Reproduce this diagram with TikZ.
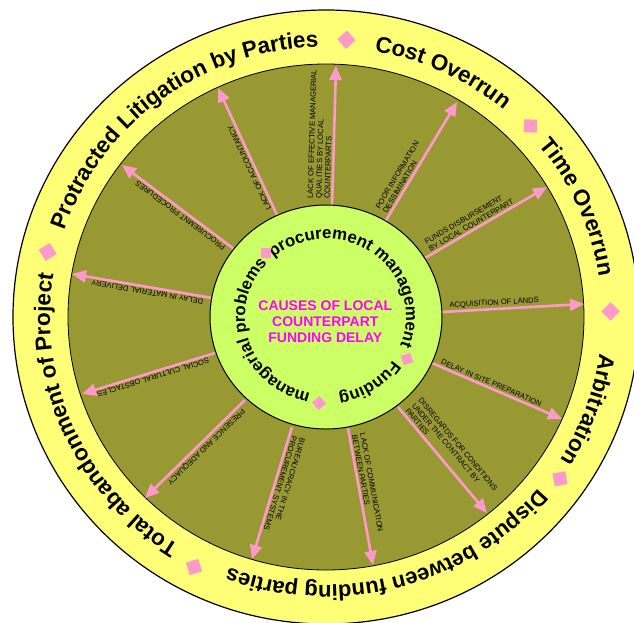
\documentclass[tikz,border=0pt]{standalone}
\usepackage{fontspec}
\setmainfont{Liberation Sans}
\usetikzlibrary{arrows.meta,decorations.text}
\definecolor{ringyellow}{HTML}{FFFF77}
\definecolor{olivefill}{HTML}{999933}
\definecolor{limefill}{HTML}{CCFF66}
\definecolor{pinkc}{HTML}{FF99CC}
\definecolor{magentac}{HTML}{FF00FF}
\begin{document}
\begin{tikzpicture}[x=1pt,y=1pt,
  arr/.style={draw=pinkc, line width=2.6pt, -{Triangle[length=14pt,width=12pt]}},
  lbl/.style={font=\fontsize{7.6}{8.4}\selectfont, text=black, sloped, allow upside down,
              anchor=south west, inner sep=1.2pt, align=left, pos=0.04},
  pinkdia/.style={fill=pinkc, minimum size=13pt, inner sep=0pt, draw=none},
  pinkdiasmall/.style={fill=pinkc, minimum size=10pt, inner sep=0pt, draw=none},
  centertext/.style={font=\fontsize{14}{16}\selectfont\bfseries, text=magentac, align=center}]
\useasboundingbox (-326,-305) rectangle (308,317);
\clip (-326,-305) rectangle (308,317);

% rings
\draw[fill=ringyellow, line width=1.2pt] (0,0) ellipse [x radius=313pt, y radius=307pt];
\draw[fill=olivefill, line width=0.8pt] (0,0) ellipse [x radius=258pt, y radius=253pt];

% arrow end points
\coordinate (s1) at (-49,102);   \coordinate (e1) at (-108,229);
\coordinate (s2) at (6,110);     \coordinate (e2) at (10,251);
\coordinate (s3) at (59,95);     \coordinate (e3) at (131,215);
\coordinate (s4) at (99,59);     \coordinate (e4) at (221,130);
\coordinate (s5) at (115.6,5);   \coordinate (e5) at (258,13);
\coordinate (s6) at (106,-46);   \coordinate (e6) at (236,-102);
\coordinate (s7) at (72,-90);    \coordinate (e7) at (161,-196);
\coordinate (s8) at (22,-111);   \coordinate (e8) at (47,-248);
\coordinate (s9) at (-34,-110);  \coordinate (e9) at (-74,-242);
\coordinate (s10) at (-81,-83);  \coordinate (e10) at (-181,-181);
\coordinate (s11) at (-111,-36); \coordinate (e11) at (-244,-77);
\coordinate (s12) at (-114,19);  \coordinate (e12) at (-254,43);
\coordinate (s13) at (-92,68);   \coordinate (e13) at (-204,152);

\draw[arr] (s1) -- node[lbl] (l1) {LACK OF ACCOUNTANCY} (e1);
\draw[arr] (s2) -- node[lbl] (l2) {LACK OF EFFECTIVE MANAGERIAL\\QUALITIES BY LOCAL\\COUNTERPARTS} (e2);
\draw[arr] (s3) -- node[lbl] (l3) {POOR INFORMATION\\DESSIMINATION} (e3);
\draw[arr] (s4) -- node[lbl] (l4) {FUNDS DISBURSEMENT\\BY LOCAL COUNTERPART} (e4);
\draw[arr] (s5) -- node[lbl] (l5) {ACQUISITION OF LANDS} (e5);
\draw[arr] (s6) -- node[lbl] (l6) {DELAY IN SITE PREPARATION} (e6);
\draw[arr] (s7) -- node[lbl] (l7) {DISREGARDS FOR CONDITIONS\\UNDER THE CONTRACT BY\\PARTIES} (e7);
\draw[arr] (s8) -- node[lbl] (l8) {LACK OF COMMUNICATION\\BETWEEN PARTIES} (e8);
\draw[arr] (s9) -- node[lbl] (l9) {BUREAUCRACY IN THE\\PROCUREMENT SYSTEMS} (e9);
\draw[arr] (s10) -- node[lbl] (l10) {PRESENCE AND ADEQUACY} (e10);
\draw[arr] (s11) -- node[lbl] (l11) {SOCIAL CULTURAL OBSTACLES} (e11);
\draw[arr] (s12) -- node[lbl] (l12) {DELAY IN MATERIAL DELIVERY} (e12);
\draw[arr] (s13) -- node[lbl] (l13) {PROCUREMNT PROCEDURES} (e13);

% inner circle
\draw[fill=limefill, line width=1pt] (0,0) ellipse [x radius=116pt, y radius=112pt];
\node[centertext] (title) at (-0.7,-4.5) {CAUSES OF LOCAL\\COUNTERPART\\FUNDING DELAY};

% outer ring texts (clockwise paths, tops outward)
\path[decorate, decoration={text along path, text align=center,
  text={|\fontsize{22.5}{26}\selectfont\bfseries|Cost Overrun}}]
  (134.5:276pt and 270pt) arc[start angle=134.5, end angle=-5.5, x radius=276pt, y radius=270pt];
\path[decorate, decoration={text along path, text align=center,
  text={|\fontsize{22.5}{26}\selectfont\bfseries|Time Overrun}}]
  (93.7:276pt and 270pt) arc[start angle=93.7, end angle=-46.3, x radius=276pt, y radius=270pt];
\path[decorate, decoration={text along path, text align=center,
  text={|\fontsize{22.5}{26}\selectfont\bfseries|Arbitration}}]
  (50.5:276pt and 270pt) arc[start angle=50.5, end angle=-89.5, x radius=276pt, y radius=270pt];
\path[decorate, decoration={text along path, text align=center,
  text={|\fontsize{22}{26}\selectfont\bfseries|Dispute between funding parties}}]
  (-5:276pt and 268pt) arc[start angle=-5, end angle=-145, x radius=276pt, y radius=268pt];
\path[decorate, decoration={text along path, text align=center,
  text={|\fontsize{22.5}{26}\selectfont\bfseries|Total abandonment of Project}}]
  (-85.9:276pt and 270pt) arc[start angle=-85.9, end angle=-225.9, x radius=276pt, y radius=270pt];
\path[decorate, decoration={text along path, text align=center,
  text={|\fontsize{22.5}{26}\selectfont\bfseries|Protracted Litigation by Parties}}]
  (196.8:276pt and 270pt) arc[start angle=196.8, end angle=56.8, x radius=276pt, y radius=270pt];

% inner ring texts
\path[decorate, decoration={text along path, text align=center,
  text={|\fontsize{16.8}{20}\selectfont\bfseries|procurement management}}]
  (144.5:80pt and 78pt) arc[start angle=144.5, end angle=-35.5, x radius=80pt, y radius=78pt];
\path[decorate, decoration={text along path, text align=center,
  text={|\fontsize{16.8}{20}\selectfont\bfseries|Funding}}]
  (-7:80pt and 78pt) arc[start angle=-7, end angle=-107, x radius=80pt, y radius=78pt];
\path[decorate, decoration={text along path, text align=center,
  text={|\fontsize{16.8}{20}\selectfont\bfseries|managerial problems}}]
  (-72.4:81pt and 78pt) arc[start angle=-72.4, end angle=-252.4, x radius=81pt, y radius=78pt];

% diamonds
\node[pinkdia, rotate=40.8] (d1) at (20.5,277.3) {};
\node[pinkdia, rotate=-2] (d2) at (204.5,191) {};
\node[pinkdia, rotate=-43.9] (d3) at (284.6,5.6) {};
\node[pinkdia, rotate=-79.7] (d4) at (234,-161.8) {};
\node[pinkdia, rotate=-162.8] (d5) at (-132,-250) {};
\node[pinkdia, rotate=121.8] (d6) at (-278.3,65.1) {};
\node[pinkdiasmall, rotate=88.2] (i1) at (-60,64) {};
\node[pinkdiasmall, rotate=-72.4] (i2) at (81,-42) {};
\node[pinkdiasmall, rotate=-139.7] (i3) at (-7,-86) {};
\end{tikzpicture}
\end{document}
